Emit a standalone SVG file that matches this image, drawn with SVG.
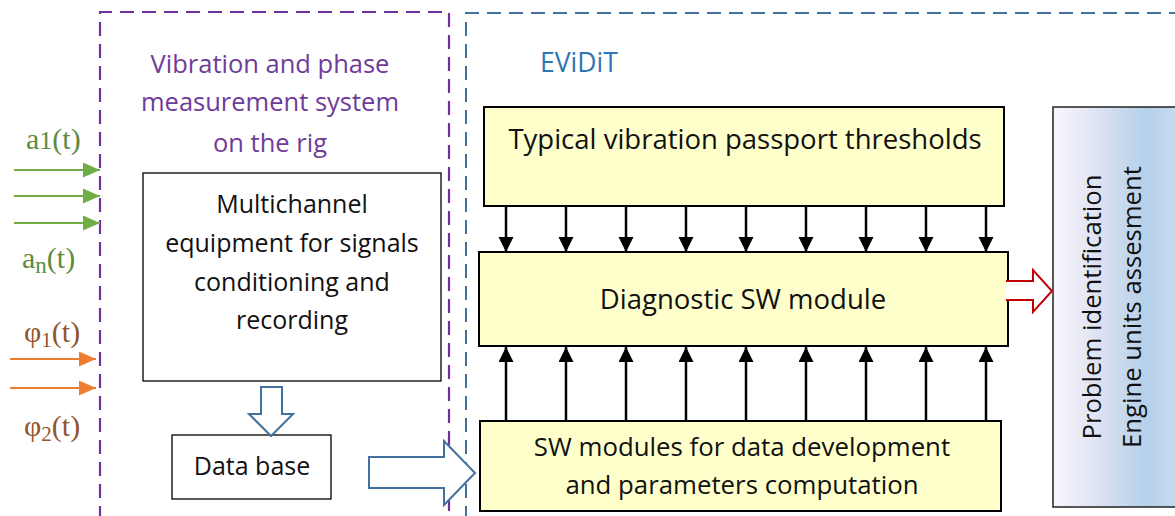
<svg xmlns="http://www.w3.org/2000/svg" width="1175" height="516" viewBox="0 0 1175 516">
<defs>
<style>
.t{font-family:"Open Sans","Noto Sans",sans-serif;fill:#111;text-anchor:middle}
.s{font-family:"Liberation Serif",serif;font-size:30px}
.y{fill:#ffffcc;stroke:#000;stroke-width:2}
.w{fill:#fff;stroke:#000;stroke-width:1.3}
.ba{stroke:#000;stroke-width:2.5;fill:none}
</style>
<linearGradient id="gr" x1="0" y1="0" x2="1" y2="0">
<stop offset="0" stop-color="#faf6fc"/>
<stop offset="0.35" stop-color="#dfe3f3"/>
<stop offset="0.75" stop-color="#b4d0ea"/>
<stop offset="1" stop-color="#c6dcf0"/>
</linearGradient>
<marker id="ah" markerUnits="userSpaceOnUse" markerWidth="16" markerHeight="16" refX="15" refY="7.5" orient="auto">
<path d="M0,0 L15,7.5 L0,15 Z" fill="#000"/>
</marker>
<marker id="ag" markerUnits="userSpaceOnUse" markerWidth="18" markerHeight="16" refX="17" refY="7.5" orient="auto">
<path d="M0,0 L17,7.5 L0,15 Z" fill="#70ad47"/>
</marker>
<marker id="ao" markerUnits="userSpaceOnUse" markerWidth="18" markerHeight="16" refX="17" refY="7.5" orient="auto">
<path d="M0,0 L17,7.5 L0,15 Z" fill="#ed7d31"/>
</marker>
</defs>
<rect width="1175" height="516" fill="#fff"/>

<g id="rig-frame">
<path d="M100,520 L100,12 L449,12 L449,520" fill="none" stroke="#7030a0" stroke-width="2.2" stroke-dasharray="14,8"/>
<text x="270" y="73" class="t" font-size="25.5" style="fill:#6f3b99">Vibration and phase</text>
<text x="270" y="111" class="t" font-size="25.5" style="fill:#6f3b99">measurement system</text>
<text x="270" y="152" class="t" font-size="25.5" style="fill:#6f3b99">on the rig</text>
</g>

<g id="evidit-frame">
<path d="M466,520 L466,13 L1180,13" fill="none" stroke="#41719c" stroke-width="2" stroke-dasharray="14,8"/>
<text x="540" y="72" font-family="Open Sans,Noto Sans,sans-serif" font-size="26.5" fill="#2e75b6">EViDiT</text>
</g>

<g id="inputs">
<text x="26" y="149" class="s" fill="#5e8c3e">a<tspan font-size="26">1</tspan>(t)</text>
<text x="22" y="268" class="s" fill="#5e8c3e">a<tspan font-size="23" dy="5">n</tspan><tspan dy="-5">(t)</tspan></text>
<text x="24" y="342" class="s" fill="#93542a">φ<tspan font-size="21" dy="5">1</tspan><tspan dy="-5">(t)</tspan></text>
<text x="24" y="436" class="s" fill="#93542a">φ<tspan font-size="21" dy="5">2</tspan><tspan dy="-5">(t)</tspan></text>
</g>

<g id="multichannel">
<rect x="143" y="173" width="298" height="208" class="w"/>
<text x="292" y="213" class="t" font-size="25">Multichannel</text>
<text x="292" y="252" class="t" font-size="25">equipment for signals</text>
<text x="292" y="291" class="t" font-size="25">conditioning and</text>
<text x="292" y="329" class="t" font-size="25">recording</text>
</g>

<g id="database">
<rect x="172" y="435" width="159" height="64" class="w"/>
<text x="252" y="475" class="t" font-size="25">Data base</text>
</g>

<g id="thresholds">
<rect x="484" y="107" width="520" height="99" class="y"/>
<text x="745" y="149" class="t" font-size="27.5">Typical vibration passport thresholds</text>
</g>

<g id="diagnostic">
<rect x="479" y="252" width="529" height="94" class="y"/>
<text x="743" y="309" class="t" font-size="27.5">Diagnostic SW module</text>
</g>

<g id="swmodules">
<rect x="480" y="421" width="521" height="90" class="y"/>
<text x="742" y="456" class="t" font-size="25.8">SW modules for data development</text>
<text x="742" y="494" class="t" font-size="25.8">and parameters computation</text>
</g>

<g id="result">
<rect x="1053" y="107" width="124" height="400" fill="url(#gr)" stroke="#222" stroke-width="1.5"/>
<text transform="translate(1101,307) rotate(-90)" class="t" font-size="25.7">Problem identification</text>
<text transform="translate(1141,307) rotate(-90)" class="t" font-size="25.7">Engine units assesment</text>
</g>

<g id="connectors">
<line x1="14" y1="170" x2="100" y2="170" stroke="#70ad47" stroke-width="2" marker-end="url(#ag)"/>
<line x1="14" y1="196" x2="100" y2="196" stroke="#70ad47" stroke-width="2" marker-end="url(#ag)"/>
<line x1="14" y1="223" x2="100" y2="223" stroke="#70ad47" stroke-width="2" marker-end="url(#ag)"/>
<line x1="10" y1="359" x2="96" y2="359" stroke="#ed7d31" stroke-width="2" marker-end="url(#ao)"/>
<line x1="10" y1="388" x2="96" y2="388" stroke="#ed7d31" stroke-width="2" marker-end="url(#ao)"/>

<path d="M261,387 L282,387 L282,414 L293,414 L271,436 L249,414 L261,414 Z" fill="#fff" stroke="#41719c" stroke-width="2"/>
<path d="M369,457 L444,457 L444,441 L475,473 L444,505 L444,488 L369,488 Z" fill="#fff" stroke="#41719c" stroke-width="2"/>
<path d="M1006,281 L1033,281 L1033,270 L1052,291 L1033,312 L1033,300 L1006,300" fill="#fff" stroke="#c00000" stroke-width="2"/>

<g class="ba">
<line x1="506" y1="207" x2="506" y2="252" marker-end="url(#ah)"/>
<line x1="566" y1="207" x2="566" y2="252" marker-end="url(#ah)"/>
<line x1="626" y1="207" x2="626" y2="252" marker-end="url(#ah)"/>
<line x1="686" y1="207" x2="686" y2="252" marker-end="url(#ah)"/>
<line x1="746" y1="207" x2="746" y2="252" marker-end="url(#ah)"/>
<line x1="806" y1="207" x2="806" y2="252" marker-end="url(#ah)"/>
<line x1="866" y1="207" x2="866" y2="252" marker-end="url(#ah)"/>
<line x1="926" y1="207" x2="926" y2="252" marker-end="url(#ah)"/>
<line x1="986" y1="207" x2="986" y2="252" marker-end="url(#ah)"/>
<line x1="506" y1="420" x2="506" y2="347" marker-end="url(#ah)"/>
<line x1="566" y1="420" x2="566" y2="347" marker-end="url(#ah)"/>
<line x1="626" y1="420" x2="626" y2="347" marker-end="url(#ah)"/>
<line x1="686" y1="420" x2="686" y2="347" marker-end="url(#ah)"/>
<line x1="746" y1="420" x2="746" y2="347" marker-end="url(#ah)"/>
<line x1="806" y1="420" x2="806" y2="347" marker-end="url(#ah)"/>
<line x1="866" y1="420" x2="866" y2="347" marker-end="url(#ah)"/>
<line x1="926" y1="420" x2="926" y2="347" marker-end="url(#ah)"/>
<line x1="986" y1="420" x2="986" y2="347" marker-end="url(#ah)"/>
</g>
</g>
</svg>
